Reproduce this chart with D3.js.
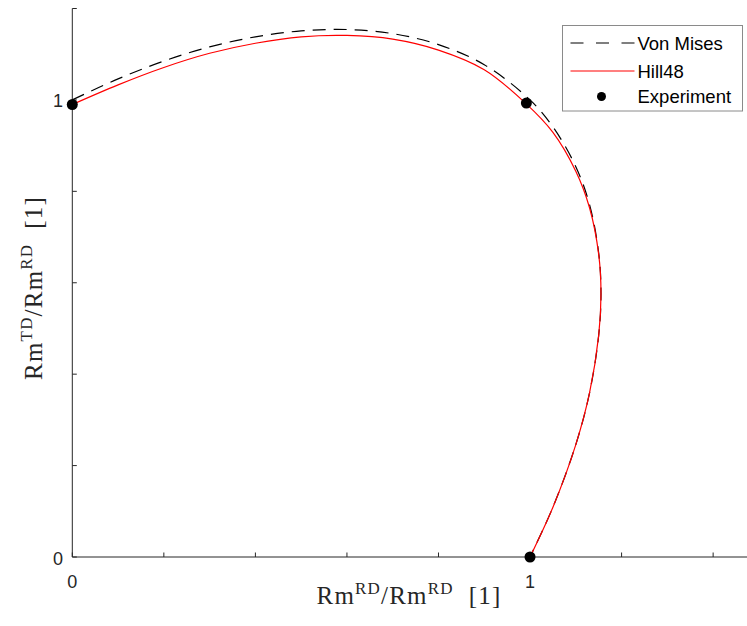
<!DOCTYPE html>
<html>
<head>
<meta charset="utf-8">
<script src="https://cdn.jsdelivr.net/npm/d3@7"></script>
<style>
  body { margin: 0; background: #fff; }
  svg { display: block; }
  .tick-label { font-family: "Liberation Sans", Arial, sans-serif; font-size: 18px; fill: #262626; }
  .axis-title { font-family: "Liberation Serif", "Times New Roman", serif; font-size: 25px; letter-spacing: 1.2px; fill: #262626; }
  .legend-text { font-family: "Liberation Sans", Arial, sans-serif; font-size: 18.5px; fill: #000; }
</style>
</head>
<body>
<svg id="chart" width="747" height="626" viewBox="0 0 747 626"></svg>
<script>
// Von Mises yield locus
const vonMisesX = [0, 0.1, 0.2, 0.3, 0.4, 0.5, 0.6, 0.7, 0.8, 0.9, 1.0, 1.05, 1.1, 1.13, 1.15, 1.155, 1.15, 1.13, 1.1, 1.05, 1.0];
const vonMisesY = [1.0, 1.046, 1.085, 1.116, 1.138, 1.151, 1.154, 1.145, 1.121, 1.077, 1.0, 0.941, 0.854, 0.771, 0.665, 0.577, 0.485, 0.359, 0.246, 0.109, 0];

// Hill48 yield locus
const hillX = [0, 0.1, 0.2, 0.3, 0.4, 0.5, 0.6, 0.7, 0.8, 0.9, 0.99, 1.05, 1.1, 1.13, 1.15, 1.155, 1.15, 1.13, 1.1, 1.05, 1.0];
const hillY = [0.99, 1.033, 1.071, 1.102, 1.124, 1.138, 1.141, 1.133, 1.109, 1.066, 0.993, 0.929, 0.844, 0.764, 0.662, 0.577, 0.485, 0.359, 0.246, 0.109, 0];

// Experimental points
const expX = [0, 0.992, 1.0];
const expY = [0.99, 0.993, 0];

// axis ticks
const xTicks = [0, 0.2, 0.4, 0.6, 0.8, 1.0, 1.2, 1.4];
const yTicks = [0, 0.2, 0.4, 0.6, 0.8, 1.0, 1.2];
const labelledTicks = [0, 1];

const legendLabels = ["Von Mises", "Hill48", "Experiment"];

const svg = d3.select("#chart");
const axisColor = "#262626";

const x = d3.scaleLinear().domain([0, 1.474]).range([72.3, 747]);
const y = d3.scaleLinear().domain([0, 1.2]).range([557, 8.5]);

// axes lines
const axes = svg.append("g");
axes.append("line")
    .attr("x1", x(0)).attr("x2", x(1.474))
    .attr("y1", y(0)).attr("y2", y(0))
    .attr("stroke", axisColor).attr("stroke-width", 1);
axes.append("line")
    .attr("x1", x(0)).attr("x2", x(0))
    .attr("y1", y(0)).attr("y2", y(1.2))
    .attr("stroke", axisColor).attr("stroke-width", 1);

// inward ticks
axes.selectAll(".xtick")
    .data(xTicks)
    .enter()
    .append("line")
    .attr("x1", d => x(d)).attr("x2", d => x(d))
    .attr("y1", y(0)).attr("y2", y(0) - 4.5)
    .attr("stroke", axisColor).attr("stroke-width", 1);

axes.selectAll(".ytick")
    .data(yTicks)
    .enter()
    .append("line")
    .attr("x1", x(0)).attr("x2", x(0) + 4.5)
    .attr("y1", d => y(d)).attr("y2", d => y(d))
    .attr("stroke", axisColor).attr("stroke-width", 1);

// tick labels (only 0 and 1 carry text)
axes.selectAll(".xlabel")
    .data(labelledTicks)
    .enter()
    .append("text")
    .attr("class", "tick-label")
    .attr("x", d => x(d))
    .attr("y", 588)
    .attr("text-anchor", "middle")
    .text(d => d);

axes.selectAll(".ylabel")
    .data(labelledTicks)
    .enter()
    .append("text")
    .attr("class", "tick-label")
    .attr("x", 63)
    .attr("y", d => y(d) + 7.5)
    .attr("text-anchor", "end")
    .text(d => d);

// axis titles with superscripts
function addTitle(g, parts) {
    parts.forEach(p => {
        const t = g.append("tspan").text(p.text);
        if (p.sup) t.attr("font-size", "17px").attr("dy", "-10");
        if (p.down) t.attr("dy", "10");
    });
}

const xTitle = svg.append("text")
    .attr("class", "axis-title")
    .attr("x", 409)
    .attr("y", 604)
    .attr("text-anchor", "middle");
addTitle(xTitle, [
    { text: "Rm" }, { text: "RD", sup: true }, { text: "/Rm", down: true },
    { text: "RD", sup: true }, { text: "\u00a0\u00a0[1]", down: true }
]);

const yTitle = svg.append("text")
    .attr("class", "axis-title")
    .attr("transform", "translate(42,288) rotate(-90)")
    .attr("text-anchor", "middle");
addTitle(yTitle, [
    { text: "Rm" }, { text: "TD", sup: true }, { text: "/Rm", down: true },
    { text: "RD", sup: true }, { text: "\u00a0\u00a0[1]", down: true }
]);

// curves
const line = d3.line()
    .x(d => x(d[0]))
    .y(d => y(d[1]))
    .curve(d3.curveCatmullRom.alpha(0.5));

const hillData = d3.zip(hillX, hillY);
const vmData = d3.zip(vonMisesX, vonMisesY);

svg.append("path")
    .datum(vmData)
    .attr("d", line)
    .attr("fill", "none")
    .attr("stroke", "#000")
    .attr("stroke-width", 1.2)
    .attr("stroke-dasharray", "13,8");

svg.append("path")
    .datum(hillData)
    .attr("d", line)
    .attr("fill", "none")
    .attr("stroke", "#ff0000")
    .attr("stroke-width", 1.2);

svg.selectAll(".exp")
    .data(d3.zip(expX, expY))
    .enter()
    .append("circle")
    .attr("cx", d => x(d[0]))
    .attr("cy", d => y(d[1]))
    .attr("r", 5.5)
    .attr("fill", "#000");

// legend
const legend = svg.append("g").attr("transform", "translate(562.5,25.5)");
legend.append("rect")
    .attr("width", 180)
    .attr("height", 85.5)
    .attr("fill", "#fff")
    .attr("stroke", "#8a8a8a")
    .attr("stroke-width", 1);

const rowY = [17.5, 45.5, 71];
legend.append("line")
    .attr("x1", 8).attr("x2", 72).attr("y1", rowY[0]).attr("y2", rowY[0])
    .attr("stroke", "#000").attr("stroke-width", 1.2).attr("stroke-dasharray", "13,12.5");
legend.append("line")
    .attr("x1", 8).attr("x2", 72).attr("y1", rowY[1]).attr("y2", rowY[1])
    .attr("stroke", "#ff0000").attr("stroke-width", 1.2);
legend.append("circle")
    .attr("cx", 39).attr("cy", rowY[2]).attr("r", 4.5).attr("fill", "#000");

legend.selectAll(".legend-text")
    .data(legendLabels)
    .enter()
    .append("text")
    .attr("class", "legend-text")
    .attr("x", 75)
    .attr("y", (d, i) => rowY[i] + 6.5)
    .text(d => d);
</script>
</body>
</html>
